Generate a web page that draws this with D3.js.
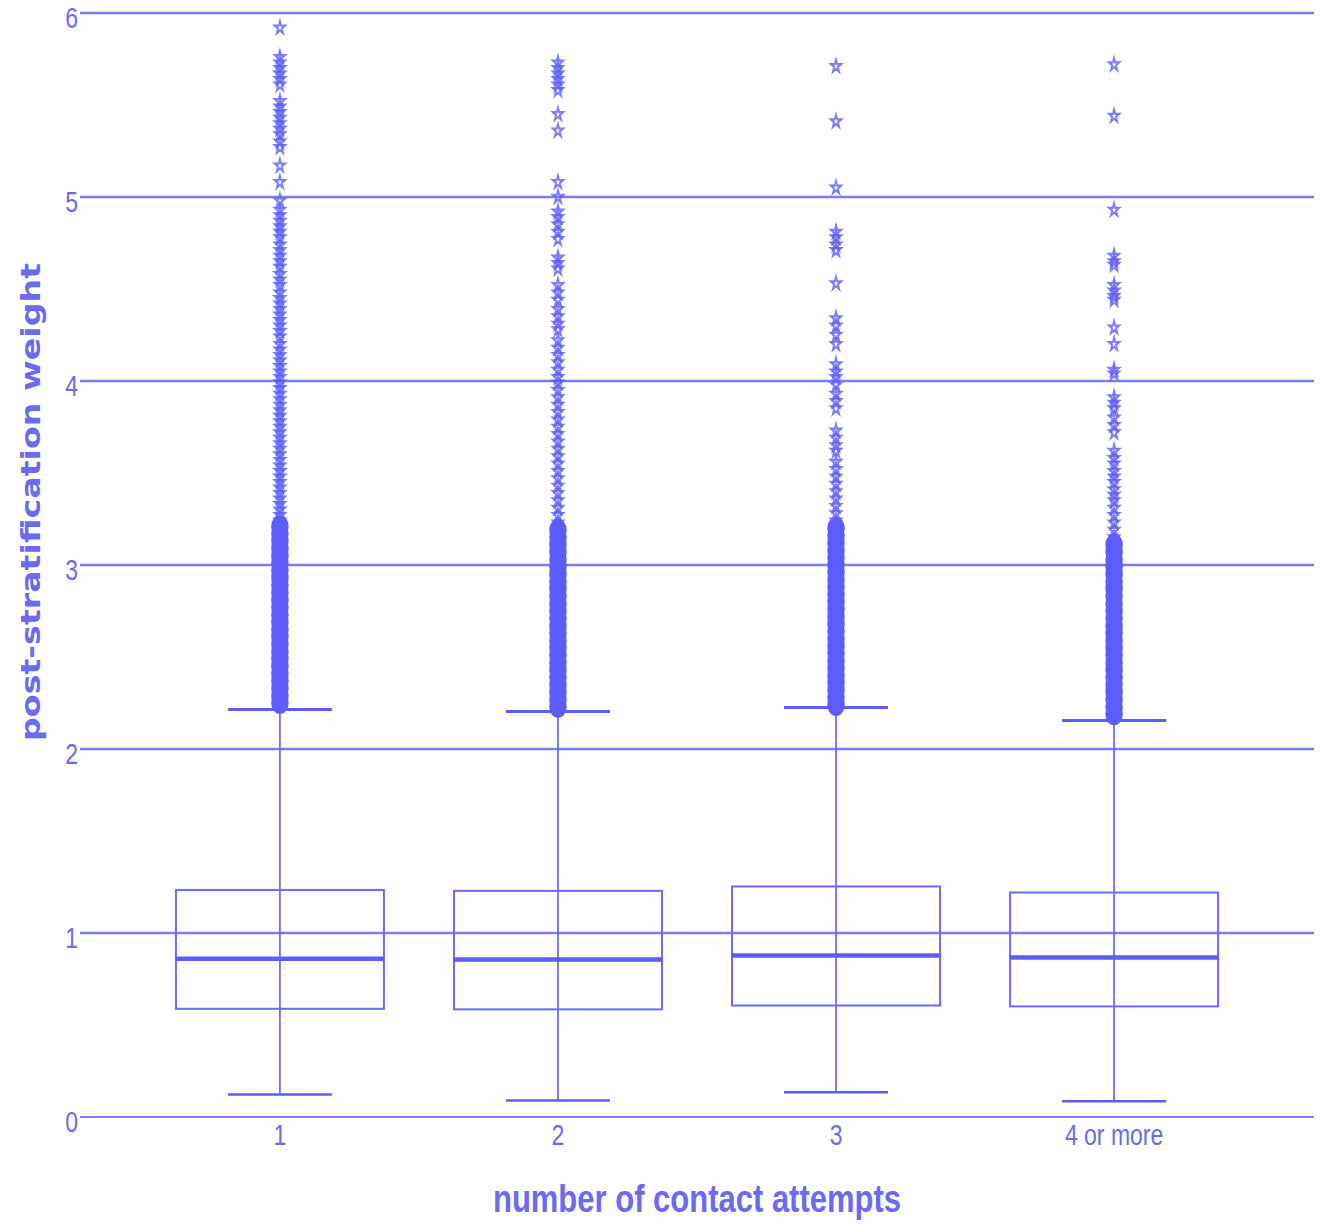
<!DOCTYPE html>
<html>
<head>
<meta charset="utf-8">
<script src="https://cdn.jsdelivr.net/npm/d3@7"></script>
<style>
  body { margin: 0; background: #fff; }
  text { font-family: "Liberation Sans", Arial, sans-serif; fill: #6a6af5; }
</style>
</head>
<body>
<svg id="boxplot" width="1322" height="1224"></svg>
<script>
// categories + box stats
const categories = ["1", "2", "3", "4 or more"];
const q1 = [0.588, 0.585, 0.606, 0.601];
const median = [0.860, 0.856, 0.878, 0.867];
const q3 = [1.234, 1.229, 1.253, 1.220];
const lowerWhisker = [0.122, 0.090, 0.134, 0.085];
const upperWhisker = [2.215, 2.204, 2.226, 2.155];
// below this value the outliers overplot into a solid column
const denseTop = [3.22, 3.20, 3.22, 3.12];

const outliers1 = [5.92, 5.76, 5.73, 5.70, 5.67, 5.64, 5.61, 5.52, 5.49, 5.46, 5.43, 5.40, 5.37, 5.34, 5.30, 5.27,
  5.17, 5.08, 4.98, 4.93, 4.90, 4.87, 4.84, 4.81, 4.78, 4.74, 4.71, 4.68, 4.65, 4.62, 4.58, 4.55, 4.52, 4.48,
  4.45, 4.42, 4.39, 4.36, 4.33, 4.30, 4.27, 4.24, 4.20, 4.17, 4.14, 4.11, 4.08, 4.05, 4.02, 3.99, 3.96, 3.93,
  3.90, 3.87, 3.84, 3.81, 3.78, 3.75, 3.72, 3.69, 3.66, 3.63, 3.60, 3.57, 3.54, 3.51, 3.48, 3.45, 3.42, 3.39,
  3.36, 3.33, 3.30, 3.27, 3.24, 3.21, 3.17, 3.13, 3.09, 3.05, 3.01, 2.97, 2.93, 2.89, 2.85, 2.81, 2.77, 2.73,
  2.69, 2.65, 2.61, 2.57, 2.53, 2.49, 2.45, 2.41, 2.37, 2.33, 2.29, 2.25];
const outliers2 = [5.73, 5.70, 5.67, 5.64, 5.61, 5.58, 5.45, 5.36, 5.08, 5.00, 4.92, 4.89, 4.85, 4.81, 4.77, 4.67,
  4.64, 4.61, 4.52, 4.48, 4.44, 4.39, 4.35, 4.31, 4.28, 4.22, 4.18, 4.14, 4.10, 4.06, 4.02, 3.99, 3.95, 3.91,
  3.87, 3.83, 3.79, 3.75, 3.71, 3.67, 3.63, 3.59, 3.55, 3.51, 3.47, 3.43, 3.39, 3.35, 3.31, 3.27, 3.23, 3.19,
  3.15, 3.11, 3.07, 3.03, 2.99, 2.95, 2.91, 2.87, 2.83, 2.79, 2.75, 2.71, 2.67, 2.63, 2.59, 2.55, 2.51, 2.47,
  2.43, 2.39, 2.35, 2.31, 2.27, 2.23];
const outliers3 = [5.71, 5.41, 5.05, 4.81, 4.78, 4.74, 4.71, 4.53, 4.34, 4.30, 4.25, 4.20, 4.09, 4.05, 4.02, 3.98,
  3.93, 3.89, 3.85, 3.73, 3.69, 3.65, 3.62, 3.56, 3.52, 3.48, 3.44, 3.40, 3.36, 3.32, 3.28, 3.24, 3.20, 3.16,
  3.12, 3.08, 3.04, 3.00, 2.96, 2.92, 2.88, 2.84, 2.80, 2.76, 2.72, 2.68, 2.64, 2.60, 2.56, 2.52, 2.48, 2.44,
  2.40, 2.36, 2.32, 2.28, 2.24];
const outliers4 = [5.72, 5.44, 4.93, 4.68, 4.65, 4.63, 4.52, 4.49, 4.46, 4.44, 4.29, 4.20, 4.06, 4.04, 3.91, 3.88,
  3.85, 3.80, 3.76, 3.72, 3.62, 3.58, 3.55, 3.51, 3.48, 3.45, 3.41, 3.38, 3.35, 3.31, 3.27, 3.23, 3.19, 3.15,
  3.11, 3.07, 3.03, 2.99, 2.95, 2.91, 2.87, 2.83, 2.79, 2.75, 2.71, 2.67, 2.63, 2.59, 2.55, 2.51, 2.47, 2.43,
  2.39, 2.35, 2.31, 2.27, 2.23, 2.19];
const outliers = [outliers1, outliers2, outliers3, outliers4];

const yTicks = [0, 1, 2, 3, 4, 5, 6];

const color = "#5c5cff";
const stretch = 1.27; // the picture's text is drawn tall

const svg = d3.select("#boxplot");
const plotLeft = 80, plotRight = 1314, plotTop = 13, plotBottom = 1117;

const xScale = d3.scalePoint().domain(categories).range([plotLeft, plotRight]).padding(0.719);
const yScale = d3.scaleLinear().domain([0, 6]).range([plotBottom, plotTop]);
const boxW = 208, capW = 104;

const data = categories.map((c, i) => ({
  cat: c, q1: q1[i], med: median[i], q3: q3[i], lo: lowerWhisker[i], hi: upperWhisker[i],
  dense: denseTop[i], out: outliers[i]
}));

// gridlines
svg.append("g")
  .selectAll("line")
  .data(yTicks)
  .enter()
  .append("line")
  .attr("x1", plotLeft)
  .attr("x2", plotRight)
  .attr("y1", (d) => yScale(d))
  .attr("y2", (d) => yScale(d))
  .attr("stroke", "#7c7cf7")
  .attr("stroke-width", (d) => (d === 0 ? 1.8 : 2.4));

// y tick labels
svg.append("g")
  .selectAll("text")
  .data(yTicks)
  .enter()
  .append("text")
  .attr("text-anchor", "end")
  .attr("font-size", "23px")
  .attr("transform", (d) => "translate(78," + (yScale(d) + 15) + ") scale(1," + stretch + ")")
  .text((d) => d);

// x tick labels
svg.append("g")
  .selectAll("text")
  .data(categories)
  .enter()
  .append("text")
  .attr("text-anchor", "middle")
  .attr("font-size", "23px")
  .attr("transform", (d) => "translate(" + xScale(d) + ",1145) scale(1," + stretch + ")")
  .text((d) => d);

const g = svg.append("g");
const box = g.selectAll(".box").data(data).enter().append("g").attr("class", "box");

// whiskers
box.append("line")
  .attr("x1", (d) => xScale(d.cat)).attr("x2", (d) => xScale(d.cat))
  .attr("y1", (d) => yScale(d.lo)).attr("y2", (d) => yScale(d.hi))
  .attr("stroke", color).attr("stroke-width", 1.6);

// caps
box.append("line")
  .attr("x1", (d) => xScale(d.cat) - capW / 2).attr("x2", (d) => xScale(d.cat) + capW / 2)
  .attr("y1", (d) => yScale(d.hi)).attr("y2", (d) => yScale(d.hi))
  .attr("stroke", color).attr("stroke-width", 3);
box.append("line")
  .attr("x1", (d) => xScale(d.cat) - capW / 2).attr("x2", (d) => xScale(d.cat) + capW / 2)
  .attr("y1", (d) => yScale(d.lo)).attr("y2", (d) => yScale(d.lo))
  .attr("stroke", color).attr("stroke-width", 2.5);

// boxes
box.append("rect")
  .attr("x", (d) => xScale(d.cat) - boxW / 2)
  .attr("y", (d) => yScale(d.q3))
  .attr("width", boxW)
  .attr("height", (d) => yScale(d.q1) - yScale(d.q3))
  .attr("fill", "none")
  .attr("stroke", "#6a6aff")
  .attr("stroke-width", 2);

// medians
box.append("line")
  .attr("x1", (d) => xScale(d.cat) - boxW / 2).attr("x2", (d) => xScale(d.cat) + boxW / 2)
  .attr("y1", (d) => yScale(d.med)).attr("y2", (d) => yScale(d.med))
  .attr("stroke", color).attr("stroke-width", 4.5);

// outliers
const star = d3.symbol().type(d3.symbolStar).size(32);
const blob = d3.symbol().type(d3.symbolCircle).size(240);
box.each(function (d) {
  const sel = d3.select(this);
  // solid overplotted part
  sel.selectAll(".dense")
    .data(d.out.filter((v) => v <= d.dense))
    .enter()
    .append("path")
    .attr("class", "dense")
    .attr("d", blob)
    .attr("transform", (v) => "translate(" + xScale(d.cat) + "," + yScale(v) + ") scale(1," + stretch + ")")
    .attr("fill", color);
  sel.selectAll(".pt")
    .data(d.out.filter((v) => v > d.dense))
    .enter()
    .append("path")
    .attr("class", "pt")
    .attr("d", star)
    .attr("transform", (v) => "translate(" + xScale(d.cat) + "," + yScale(v) + ") scale(1," + stretch + ")")
    .attr("fill", "none")
    .attr("stroke", color)
    .attr("stroke-opacity", 0.8)
    .attr("stroke-width", 1.8);
});

// axis titles
svg.append("text")
  .attr("text-anchor", "middle")
  .attr("font-size", "31px")
  .attr("font-weight", "bold")
  .attr("transform", "translate(697,1212) scale(1," + stretch + ")")
  .text("number of contact attempts");

svg.append("text")
  .attr("text-anchor", "middle")
  .attr("font-size", "26px")
  .attr("font-weight", "bold")
  .style("font-family", "'DejaVu Sans', Verdana, sans-serif")
  .attr("textLength", 478)
  .attr("lengthAdjust", "spacingAndGlyphs")
  .attr("transform", "translate(40,502) rotate(-90)")
  .text("post-stratification weight");
</script>
</body>
</html>
